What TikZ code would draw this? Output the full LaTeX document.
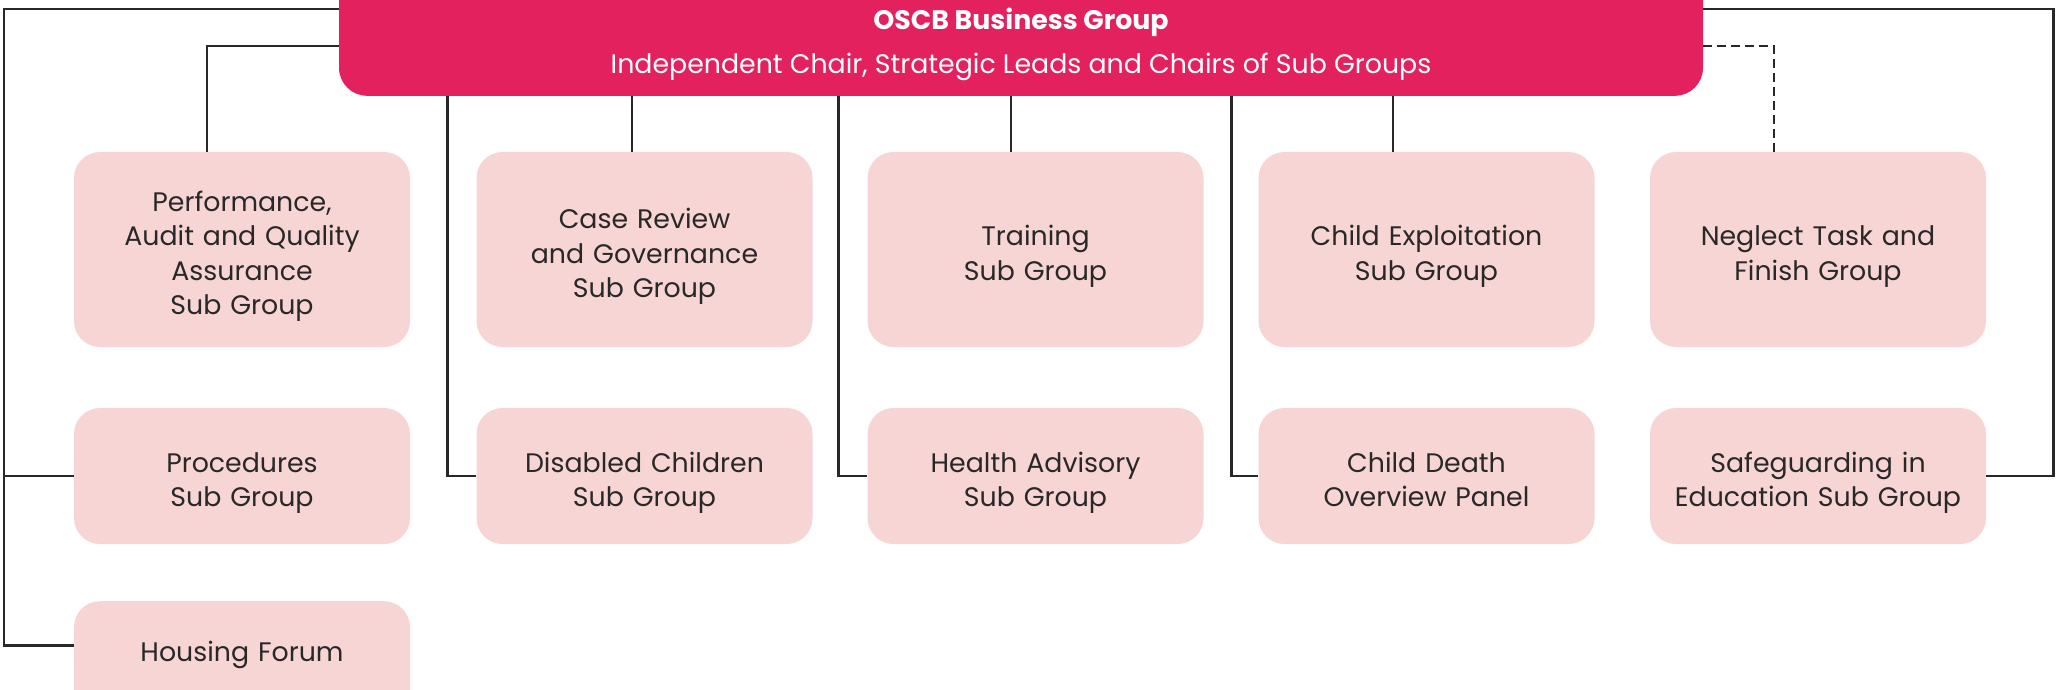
\documentclass[tikz,border=0pt]{standalone}
\usepackage{fontspec}
\setmainfont{Poppins}
\usetikzlibrary{calc}
\definecolor{oscbred}{RGB}{228,33,95}
\definecolor{subpink}{RGB}{247,213,212}
\definecolor{inkgrey}{RGB}{40,40,40}

\begin{document}
\begin{tikzpicture}[x=1pt, y=-1pt,
  group/.style={fill=subpink, rounded corners=26pt, minimum width=336pt,
    inner sep=0pt, text=inkgrey, text width=336pt, align=center,
    font=\fontsize{26.8}{34.6}\selectfont,
    execute at begin node={\noindent\rule{0pt}{37pt}},
    execute at end node={\rule[-10pt]{0pt}{0pt}}},
  tallgroup/.style={group, minimum height=195pt},
  shortgroup/.style={group, minimum height=136pt},
  link/.style={draw=inkgrey, line width=2.6pt}]

  \clip (0,0) rectangle (2062,689);

  % header
  \node[fill=oscbred, rounded corners=28pt, minimum width=1364pt,
    minimum height=150pt, inner sep=0pt, anchor=south, text=white,
    align=center, font=\fontsize{26.8}{30}\selectfont,
    text height=110pt, text depth=5pt]
    (hdr) at (1021,96) {\textbf{OSCB Business Group}\\[14pt]Independent Chair, Strategic Leads and Chairs of Sub Groups};

  % first row
  \node[tallgroup] (perf) at (242,249.5) {Performance,\\Audit and Quality\\Assurance\\Sub Group};
  \node[tallgroup] (case) at (644.5,249.5) {Case Review\\and Governance\\Sub Group};
  \node[tallgroup] (train) at (1035.5,249.5) {Training\\Sub Group};
  \node[tallgroup] (cse) at (1426.5,249.5) {Child Exploitation\\Sub Group};
  \node[tallgroup] (neglect) at (1818,249.5) {Neglect Task and\\Finish Group};

  % second row
  \node[shortgroup] (proc) at (242,476) {Procedures\\Sub Group};
  \node[shortgroup] (disab) at (644.5,476) {Disabled Children\\Sub Group};
  \node[shortgroup] (health) at (1035.5,476) {Health Advisory\\Sub Group};
  \node[shortgroup] (cdop) at (1426.5,476) {Child Death\\Overview Panel};
  \node[shortgroup] (safe) at (1818,476) {Safeguarding in\\Education Sub Group};

  \node[group, minimum height=140pt, anchor=north, text height=26pt, text depth=45pt]
    (house) at (242,601) {Housing Forum};

  \coordinate (yA) at (0,9);
  \coordinate (yB) at (0,46);

  \draw[link] (proc.west) -- ++(-70,0) coordinate (lk) -- (lk |- yA) -- (hdr.west |- yA); %% hdr->proc
  \draw[link] (lk) |- ([yshift=26pt]house.west); %% hdr->house
  \draw[link] (hdr.west |- yB) -| ([xshift=-35pt]perf.north); %% hdr->perf

  \draw[link] (disab.west) -- ++(-29,0) coordinate (dk) -- (dk |- hdr.south); %% hdr->disab
  \draw[link] (case.north) ++(-12.5,0) coordinate (ck) -- (ck |- hdr.south); %% hdr->case
  \draw[link] (health.west) -- ++(-29,0) coordinate (hk) -- (hk |- hdr.south); %% hdr->health
  \draw[link] (train.north) ++(-24.5,0) coordinate (tk) -- (tk |- hdr.south); %% hdr->train
  \draw[link] (cdop.west) -- ++(-27,0) coordinate (ok) -- (ok |- hdr.south); %% hdr->cdop
  \draw[link] (cse.north) ++(-33.5,0) coordinate (ek) -- (ek |- hdr.south); %% hdr->cse

  \draw[link, dash pattern=on 9pt off 5pt] (hdr.east |- yB) -| ([xshift=-44pt]neglect.north); %% hdr->neglect
  \draw[link] (safe.east) -- ++(67,0) coordinate (rk) -- (rk |- yA) -- (hdr.east |- yA); %% hdr->safe

\end{tikzpicture}
\end{document}
